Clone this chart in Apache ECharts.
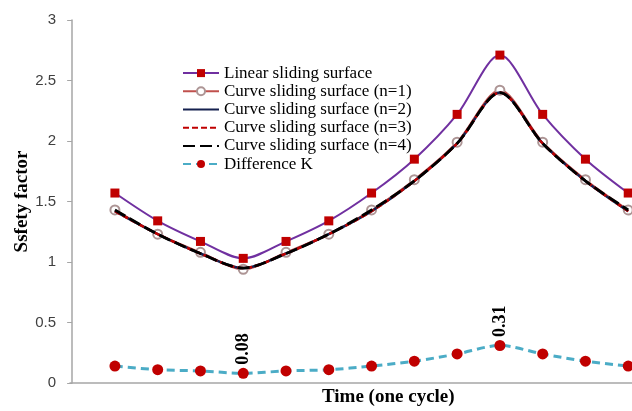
<!DOCTYPE html>
<html>
<head>
<meta charset="utf-8">
<script src="https://cdn.jsdelivr.net/npm/echarts@6/dist/echarts.min.js"></script>
<style>
  html, body { margin: 0; padding: 0; background: #fff; }
  #chart { width: 632px; height: 411px; }
</style>
</head>
<body>
<div id="chart"></div>
<script>
// Safety factor over one cycle, 13 sampled instants
const steps = [1, 2, 3, 4, 5, 6, 7, 8, 9, 10, 11, 12, 13];
const linearSurface = [1.57, 1.34, 1.17, 1.03, 1.17, 1.34, 1.57, 1.85, 2.22, 2.71, 2.22, 1.85, 1.57];
const curveN1 = [1.43, 1.23, 1.08, 0.94, 1.08, 1.23, 1.43, 1.68, 1.99, 2.42, 1.99, 1.68, 1.43];
const curveN2 = [1.42, 1.23, 1.07, 0.95, 1.07, 1.23, 1.42, 1.67, 1.98, 2.40, 1.98, 1.67, 1.42];
const curveN3 = [1.42, 1.23, 1.07, 0.95, 1.07, 1.23, 1.42, 1.67, 1.98, 2.40, 1.98, 1.67, 1.42];
const curveN4 = [1.43, 1.23, 1.07, 0.95, 1.07, 1.23, 1.43, 1.67, 1.98, 2.40, 1.98, 1.67, 1.43];
const differenceK = [0.14, 0.11, 0.10, 0.08, 0.10, 0.11, 0.14, 0.18, 0.24, 0.31, 0.24, 0.18, 0.14];
const yTicks = { min: 0, max: 3, step: 0.5 };

const pairs = (vals) => vals.map((v, i) => [steps[i], v]);

// annotate the smallest and largest difference
const kMin = Math.min(...differenceK);
const kMax = Math.max(...differenceK);

const serif = '"Liberation Serif", "Times New Roman", serif';
const n1Marker = { color: '#ad9595', borderWidth: 1.1 };
const noMarker = { opacity: 0 };

const chart = echarts.init(document.getElementById('chart'), null, { renderer: 'canvas' });
chart.setOption({
  animation: false,
  backgroundColor: '#ffffff',
  grid: { left: 70, top: 20, bottom: 28, right: -39, containLabel: false, outerBoundsMode: 'none' },
  title: {
    text: 'Time (one cycle)',
    left: 322, top: 388, padding: 0,
    textStyle: { fontFamily: serif, fontSize: 19, fontWeight: 'bold', color: '#000' }
  },
  legend: {
    orient: 'vertical',
    left: 177, top: 59,
    itemWidth: 36, itemHeight: 10, itemGap: 0,
    textStyle: { fontFamily: serif, fontSize: 17, color: '#000', lineHeight: 18.2 },
    data: [
      { name: 'Linear sliding surface' },
      { name: 'Curve sliding surface (n=1)', itemStyle: n1Marker },
      { name: 'Curve sliding surface (n=2)', itemStyle: noMarker },
      { name: 'Curve sliding surface (n=3)', itemStyle: noMarker },
      { name: 'Curve sliding surface (n=4)', itemStyle: noMarker },
      { name: 'Difference K' }
    ]
  },
  xAxis: {
    type: 'value',
    min: -0.05, max: 14,
    axisLine: { show: true, lineStyle: { color: '#a6a6a6', width: 1.5 } },
    axisTick: { show: false },
    axisLabel: { show: false },
    splitLine: { show: false }
  },
  yAxis: {
    type: 'value',
    min: yTicks.min, max: yTicks.max, interval: yTicks.step,
    name: 'Ssfety factor',
    nameLocation: 'middle',
    nameRotate: 90,
    nameGap: 38,
    nameMoveOverlap: false,
    nameTextStyle: { fontFamily: serif, fontSize: 19, fontWeight: 'bold', color: '#000' },
    axisLine: { show: true, lineStyle: { color: '#a6a6a6', width: 1.5 } },
    axisTick: { show: true, length: 5, lineStyle: { color: '#a6a6a6' } },
    axisLabel: { margin: 14, fontFamily: '"Liberation Sans", Arial, sans-serif', fontSize: 15, color: '#404040' },
    splitLine: { show: false }
  },
  series: [
    {
      name: 'Difference K',
      type: 'line',
      data: pairs(differenceK),
      smooth: 0.3,
      symbol: 'circle', symbolSize: 11,
      itemStyle: { color: '#c00000' },
      lineStyle: { color: '#4bacc6', width: 3, type: [8, 5] },
      label: {
        show: true,
        position: 'top',
        distance: 3,
        rotate: 90,
        align: 'left',
        verticalAlign: 'middle',
        fontFamily: serif, fontSize: 18, fontWeight: 'bold', color: '#000',
        formatter: (p) => (p.value[1] === kMin || p.value[1] === kMax) ? p.value[1].toFixed(2) : ''
      },
      z: 2
    },
    {
      name: 'Linear sliding surface',
      type: 'line',
      data: pairs(linearSurface),
      smooth: 0.3,
      symbol: 'rect', symbolSize: 9,
      itemStyle: { color: '#c00000' },
      lineStyle: { color: '#7030a0', width: 2 },
      z: 3
    },
    {
      name: 'Curve sliding surface (n=1)',
      type: 'line',
      data: pairs(curveN1),
      smooth: 0.3,
      symbol: 'emptyCircle', symbolSize: 9,
      itemStyle: n1Marker,
      lineStyle: { color: '#c0504d', width: 2 },
      z: 3
    },
    {
      name: 'Curve sliding surface (n=2)',
      type: 'line',
      data: pairs(curveN2),
      smooth: 0.3,
      symbol: 'none',
      itemStyle: { color: '#15214f' },
      lineStyle: { color: '#15214f', width: 2.5 },
      z: 4
    },
    {
      name: 'Curve sliding surface (n=3)',
      type: 'line',
      data: pairs(curveN3),
      smooth: 0.3,
      symbol: 'none',
      itemStyle: { color: '#c00000' },
      lineStyle: { color: '#c00000', width: 2.5, type: [6, 3] },
      z: 5
    },
    {
      name: 'Curve sliding surface (n=4)',
      type: 'line',
      data: pairs(curveN4),
      smooth: 0.3,
      symbol: 'none',
      itemStyle: { color: '#000000' },
      lineStyle: { color: '#000000', width: 2.8, type: [12, 5] },
      z: 6
    }
  ]
});
</script>
</body>
</html>
